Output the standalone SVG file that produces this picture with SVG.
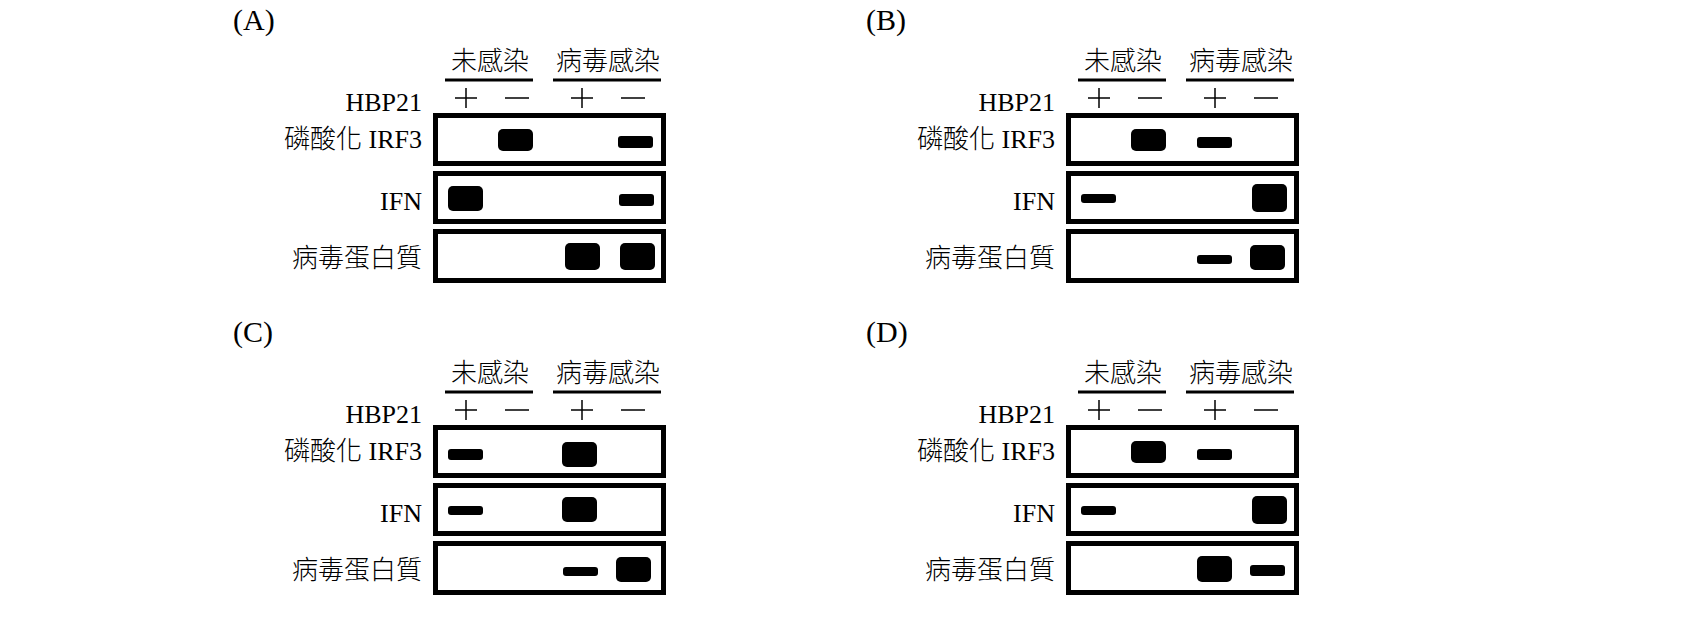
<svg xmlns="http://www.w3.org/2000/svg" width="1700" height="624" viewBox="0 0 1700 624">
<defs>
<style>
text{font-family:"Liberation Serif","Noto Sans CJK TC",serif;fill:#000}
.t{font-size:26px}
.c{font-weight:300}
.r{text-anchor:end}
.h{font-size:30px}
.box{fill:#fff;stroke:#000;stroke-width:5}
.ul{stroke:#000;stroke-width:3}
.pm{stroke:#000;stroke-width:1.5}
.b{fill:#000}
</style>
<g id="frame">
<text class="t c" x="490" y="70" text-anchor="middle">未感染</text>
<text class="t c" x="608" y="70" text-anchor="middle">病毒感染</text>
<line class="ul" x1="445" y1="80" x2="533" y2="80"/>
<line class="ul" x1="553" y1="80" x2="661" y2="80"/>
<text class="t r" x="422" y="111">HBP21</text>
<line class="pm" x1="455" y1="98" x2="477" y2="98"/><line class="pm" x1="466" y1="88" x2="466" y2="108"/>
<line class="pm" x1="505" y1="98" x2="529" y2="98"/>
<line class="pm" x1="571" y1="98" x2="593" y2="98"/><line class="pm" x1="582" y1="88" x2="582" y2="108"/>
<line class="pm" x1="621" y1="98" x2="645" y2="98"/>
<text class="t r" x="422" y="148"><tspan class="c">磷酸化</tspan> IRF3</text>
<text class="t r" x="422" y="210">IFN</text>
<text class="t r c" x="422" y="267">病毒蛋白質</text>
<rect class="box" x="435.5" y="115.5" width="228" height="48"/>
<rect class="box" x="435.5" y="173.5" width="228" height="48"/>
<rect class="box" x="435.5" y="231.5" width="228" height="49"/>
</g>
</defs>
<rect width="1700" height="624" fill="#fff"/>
<g id="panelA">
<text class="h" x="233" y="30">(A)</text>
<use href="#frame"/>
<rect class="b" x="498" y="129" width="35" height="22" rx="5"/>
<rect class="b" x="618" y="136" width="35" height="12" rx="3"/>
<rect class="b" x="448" y="186" width="35" height="25" rx="5"/>
<rect class="b" x="619" y="194" width="35" height="12" rx="3"/>
<rect class="b" x="565" y="243" width="35" height="27" rx="5"/>
<rect class="b" x="620" y="243" width="35" height="27" rx="5"/>
</g>
<g id="panelB" transform="translate(633,0)">
<text class="h" x="233" y="30">(B)</text>
<use href="#frame"/>
<rect class="b" x="498" y="129" width="35" height="22" rx="5"/>
<rect class="b" x="564" y="137" width="35" height="11" rx="3"/>
<rect class="b" x="448" y="194" width="35" height="9" rx="3"/>
<rect class="b" x="619" y="184" width="35" height="28" rx="5"/>
<rect class="b" x="564" y="255" width="35" height="9" rx="3"/>
<rect class="b" x="617" y="245" width="35" height="25" rx="5"/>
</g>
<g id="panelC" transform="translate(0,312)">
<text class="h" x="233" y="30">(C)</text>
<use href="#frame"/>
<rect class="b" x="448" y="137" width="35" height="11" rx="3"/>
<rect class="b" x="562" y="130" width="35" height="25" rx="5"/>
<rect class="b" x="448" y="194" width="35" height="9" rx="3"/>
<rect class="b" x="562" y="185" width="35" height="25" rx="5"/>
<rect class="b" x="563" y="255" width="35" height="9" rx="3"/>
<rect class="b" x="616" y="245" width="35" height="25" rx="5"/>
</g>
<g id="panelD" transform="translate(633,312)">
<text class="h" x="233" y="30">(D)</text>
<use href="#frame"/>
<rect class="b" x="498" y="129" width="35" height="22" rx="5"/>
<rect class="b" x="564" y="137" width="35" height="11" rx="3"/>
<rect class="b" x="448" y="194" width="35" height="9" rx="3"/>
<rect class="b" x="619" y="184" width="35" height="28" rx="5"/>
<rect class="b" x="564" y="244" width="35" height="26" rx="5"/>
<rect class="b" x="617" y="253" width="35" height="11" rx="3"/>
</g>
<g id="connectors"/>
</svg>
